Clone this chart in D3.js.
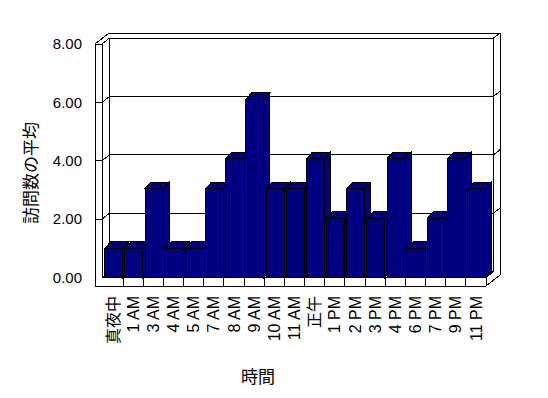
<!DOCTYPE html>
<html>
<head>
<meta charset="utf-8">
<script src="https://d3js.org/d3.v7.min.js"></script>
<style>
  body { margin: 0; background: #fff; }
  svg { display: block; font-family: "Liberation Sans", "Noto Sans CJK JP", sans-serif; }
</style>
</head>
<body>
<svg></svg>
<script>
// データ
const categories = ["真夜中", "1 AM", "3 AM", "4 AM", "5 AM", "7 AM", "8 AM", "9 AM", "10 AM", "11 AM",
  "正午", "1 PM", "2 PM", "3 PM", "4 PM", "6 PM", "7 PM", "9 PM", "11 PM"];
const values = [1, 1, 3, 1, 1, 3, 4, 6, 3, 3, 4, 2, 3, 2, 4, 1, 2, 4, 3];
const yTicks = [0, 2, 4, 6, 8];
const yTickLabels = ["0.00", "2.00", "4.00", "6.00", "8.00"];
const yTitle = "訪問数の平均";
const xTitle = "時間";

// SVGサイズ
const width = 548;
const height = 398;

const svg = d3.select("svg")
  .attr("width", width)
  .attr("height", height);

// スケール（手前の面）
const x = d3.scaleBand().domain(categories).range([103, 486]).padding(0);
const y = d3.scaleLinear().domain([0, 8]).range([277.5, 44]);
// 棒は少し奥の面にある
const yBar = d3.scaleLinear().domain([0, 8]).range([278, 39.5]);

// 3Dの奥行き
const d1 = [7.5, -6];   // 背面の壁
const d2 = [14, -11];   // 壁の厚み
const bd = [6, -6.5];   // 棒の奥行き

const x0 = 95, x1 = 102;
const xR = x.range()[1];
const yTop = y(8), yFloor = y(0), yBot = 286;

const frame = svg.append("g")
  .attr("fill", "none")
  .attr("stroke", "#000")
  .attr("stroke-width", 1)
  .attr("shape-rendering", "crispEdges");

// 外枠
frame.append("path")
  .attr("fill", "#fff")
  .attr("d", `M${x0},${yBot}V${yTop}L${x0 + d2[0]},${yTop + d2[1]}H${xR + d2[0]}V${yBot + d2[1]}L${xR},${yBot}Z`);

// 背面の壁
frame.append("rect")
  .attr("x", x1 + d1[0])
  .attr("y", yTop + d1[1])
  .attr("width", xR - x1)
  .attr("height", yFloor - yTop);

// 左の壁・床
frame.append("path")
  .attr("d", [
    `M${x1},${yTop}V${yFloor}H${xR}V${yBot}`,
    `M${x1},${yTop}L${x1 + d1[0]},${yTop + d1[1]}`,
    `M${x1},${yFloor}L${x1 + d1[0]},${yFloor + d1[1]}`,
    `M${xR},${yFloor}L${xR + d1[0]},${yFloor + d1[1]}`,
    `M${xR + d1[0]},${yTop + d1[1]}L${xR + d2[0]},${yTop + d2[1]}`
  ].join(""));

// 目盛線
frame.selectAll(".grid")
  .data(yTicks.filter(v => v > 0))
  .enter()
  .append("path")
  .attr("class", "grid")
  .attr("d", v => {
    const yy = y(v);
    return `M${x0},${yy}H${x1}L${x1 + d1[0]},${yy + d1[1]}H${xR + d1[0]}L${xR + d2[0]},${yy + d2[1]}`;
  });

// 床の区切り
frame.selectAll(".div")
  .data(categories.slice(1))
  .enter()
  .append("path")
  .attr("class", "div")
  .attr("d", c => `M${x(c)},${yFloor}V${yBot}`);

// 棒
const bw = 18;
const bar = svg.selectAll(".bar")
  .data(categories.map((c, i) => ({ c, v: values[i] })))
  .enter()
  .append("g")
  .attr("class", "bar")
  .attr("fill", "#000080")
  .attr("stroke", "#000")
  .attr("shape-rendering", "crispEdges");

bar.append("path")
  .attr("d", d => {
    const bx = x(d.c) + 1.8 + bw, yt = yBar(d.v);
    return `M${bx},${yFloor}V${yt}L${bx + bd[0]},${yt + bd[1]}V${yFloor + bd[1]}Z`;
  });

bar.append("path")
  .attr("d", d => {
    const bx = x(d.c) + 1.8, yt = yBar(d.v);
    return `M${bx},${yt}L${bx + bd[0]},${yt + bd[1]}H${bx + bw + bd[0]}L${bx + bw},${yt}Z`;
  });

bar.append("rect")
  .attr("x", d => x(d.c) + 1.8)
  .attr("y", d => yBar(d.v))
  .attr("width", bw)
  .attr("height", d => yFloor - yBar(d.v));

// Y軸ラベル
svg.selectAll(".ytick")
  .data(yTicks)
  .enter()
  .append("text")
  .attr("class", "ytick")
  .attr("x", 82)
  .attr("y", d => y(d))
  .attr("dy", "0.35em")
  .attr("text-anchor", "end")
  .style("font-size", "15px")
  .text((d, i) => yTickLabels[i]);

// X軸ラベル（縦書き）
svg.selectAll(".xtick")
  .data(categories)
  .enter()
  .append("text")
  .attr("class", "xtick")
  .attr("transform", d => `translate(${x(d) + x.bandwidth() / 2},296) rotate(-90)`)
  .attr("dy", "0.35em")
  .attr("text-anchor", "end")
  .style("font-size", "16px")
  .text(d => d);

// 軸タイトル
svg.append("text")
  .attr("transform", "translate(31,173) rotate(-90)")
  .attr("dy", "0.35em")
  .attr("text-anchor", "middle")
  .style("font-size", "17px")
  .text(yTitle);

svg.append("text")
  .attr("x", 258)
  .attr("y", 377)
  .attr("dy", "0.35em")
  .attr("text-anchor", "middle")
  .style("font-size", "17px")
  .text(xTitle);
</script>
</body>
</html>
